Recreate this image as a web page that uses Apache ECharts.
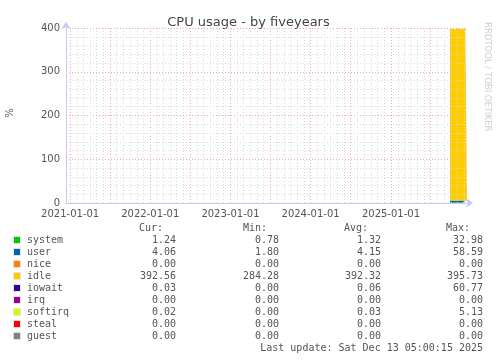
<!DOCTYPE html>
<html><head><meta charset="utf-8">
<script src="https://cdn.jsdelivr.net/npm/echarts@6/dist/echarts.min.js"></script>
<style>html,body{margin:0;padding:0;background:#fff}#c{width:497px;height:360px}</style>
</head><body><div id="c"></div>
<script>
var dates = ['2025-09-27','2025-10-04','2025-10-11','2025-10-18','2025-10-25','2025-11-01','2025-11-08','2025-11-15','2025-11-22','2025-11-29','2025-12-06','2025-12-13'];
var systemVals = [1.35,1.30,1.33,1.31,1.29,1.34,1.32,1.30,1.33,1.31,1.28,1.24];
var userVals = [4.20,4.10,4.20,4.15,4.10,4.20,4.15,4.10,4.20,4.15,4.10,4.06];
var niceVals = [0,0,0,0,0,0,0,0,0,0,0,0];
var idleVals = [392.2,392.4,392.3,392.3,392.4,392.2,392.3,392.4,392.3,392.3,392.4,392.56];
var iowaitVals = [0.06,0.07,0.05,0.06,0.06,0.07,0.06,0.05,0.06,0.06,0.05,0.03];
var irqVals = [0,0,0,0,0,0,0,0,0,0,0,0];
var softirqVals = [0.03,0.03,0.03,0.03,0.03,0.03,0.03,0.03,0.03,0.03,0.03,0.02];
var stealVals = [0,0,0,0,0,0,0,0,0,0,0,0];
var guestVals = [0,0,0,0,0,0,0,0,0,0,0,0];

var names = ['system','user','nice','idle','iowait','irq','softirq','steal','guest'];
var colors = ['#00cc00','#0066b3','#ff8000','#ffcc00','#330099','#990099','#ccff00','#ff0000','#808080'];
var curVals = ['1.24','4.06','0.00','392.56','0.03','0.00','0.02','0.00','0.00'];
var minVals = ['0.78','1.80','0.00','284.28','0.00','0.00','0.00','0.00','0.00'];
var avgVals = ['1.32','4.15','0.00','392.32','0.06','0.00','0.03','0.00','0.00'];
var maxVals = ['32.98','58.59','0.00','395.73','60.77','0.00','5.13','0.00','0.00'];
var headers = ['Cur:','Min:','Avg:','Max:'];
var yTicks = [0,100,200,300,400];
var lastUpdate = 'Last update: Sat Dec 13 05:00:15 2025';

var seriesVals = [systemVals,userVals,niceVals,idleVals,iowaitVals,irqVals,softirqVals,stealVals,guestVals];
var DAY = 86400000;
var tMin = Date.UTC(2020,11,13,5,0,15);
var tMax = Date.UTC(2025,11,13,5,0,15);

// calendar grid positions (month starts / half-year starts)
var monthStarts = [], halfYearStarts = [];
for (var yr = 2021; yr <= 2025; yr++) {
  for (var m = 0; m < 12; m++) {
    var t = Date.UTC(yr, m, 1);
    if (t > tMax) continue;
    if (m % 6 === 0) halfYearStarts.push(t); else monthStarts.push(t);
  }
}

var mono = 'DejaVu Sans Mono';
var sans = 'DejaVu Sans';
var txtColor = '#555';

var series = names.map(function(n,i){
  return {
    name:n, type:'line', stack:'cpu', showSymbol:false, symbol:'none',
    lineStyle:{width:0}, areaStyle:{color:colors[i], opacity:1}, itemStyle:{color:colors[i]},
    z:2, silent:true, animation:false,
    data: dates.map(function(d,j){ return [Date.parse(d+'T00:00:00Z'), seriesVals[i][j]]; })
  };
});
series.push({
  type:'line', data:[], z:6, silent:true,
  markLine:{silent:true, symbol:'none', animation:false, label:{show:false},
    lineStyle:{color:'#d8d8d8', type:[1,2], width:1},
    data: monthStarts.map(function(t){ return {xAxis:t}; })}
});
series.push({
  type:'line', data:[], z:7, silent:true,
  markLine:{silent:true, symbol:'none', animation:false, label:{show:false},
    lineStyle:{color:'#f2a8a8', type:[1,2], width:1},
    data: halfYearStarts.map(function(t){ return {xAxis:t}; })}
});

var graphics = [];
var colRight = [176,279,381,483];
var headRight = [163,267,368,470];
headers.forEach(function(h,k){
  graphics.push({type:'text', x:headRight[k], y:228, style:{text:h, font:'10px '+mono, fill:txtColor, textAlign:'right', textVerticalAlign:'middle'}});
});
names.forEach(function(n,i){
  var y = 240 + i*12;
  graphics.push({type:'rect', shape:{x:13.5,y:y-3.5,width:7,height:7}, style:{fill:colors[i], stroke:'#e4e4e4', lineWidth:1}});
  graphics.push({type:'text', x:27, y:y, style:{text:n, font:'10px '+mono, fill:txtColor, textVerticalAlign:'middle'}});
  [curVals,minVals,avgVals,maxVals].forEach(function(arr,k){
    graphics.push({type:'text', x:colRight[k], y:y, style:{text:arr[i], font:'10px '+mono, fill:txtColor, textAlign:'right', textVerticalAlign:'middle'}});
  });
});
graphics.push({type:'text', x:483, y:348, style:{text:lastUpdate, font:'10px '+mono, fill:txtColor, textAlign:'right', textVerticalAlign:'middle'}});
graphics.push({type:'text', x:10, y:113, rotation:Math.PI/2, style:{text:'%', font:'10px '+sans, fill:txtColor, textAlign:'center', textVerticalAlign:'middle'}});
graphics.push({type:'text', x:487, y:22, rotation:-Math.PI/2, style:{text:'RRDTOOL / TOBI OETIKER', font:'8.5px '+sans, fill:'#cfcfcf', textAlign:'left', textVerticalAlign:'middle'}});

var chart = echarts.init(document.getElementById('c'), null, {renderer:'canvas'});
chart.setOption({
  animation:false,
  useUTC:true,
  backgroundColor:'#fff',
  title:{text:'CPU usage - by fiveyears', left:'center', top:11, textStyle:{fontFamily:sans, fontSize:13, fontWeight:'normal', color:'#444'}},
  grid:{left:66, right:30, top:28, bottom:157},
  xAxis:{
    type:'time', min:tMin, max:tMax, z:8,
    minInterval:178*DAY, maxInterval:186*DAY,
    axisLine:{show:true, lineStyle:{color:'#c8c8f4', width:1}, symbol:['none','arrow'], symbolSize:[7,7], symbolOffset:[0,6]},
    axisTick:{show:false},
    axisLabel:{fontFamily:sans, fontSize:10, color:txtColor, margin:6, hideOverlap:false,
      formatter:function(v){ var d=new Date(v); return (d.getUTCMonth()===0 && d.getUTCDate()===1) ? (d.getUTCFullYear()+'-01-01') : ''; }},
    splitLine:{show:false}
  },
  yAxis:{
    type:'value', min:yTicks[0], max:yTicks[yTicks.length-1], interval:100, z:8,
    axisLine:{show:true, lineStyle:{color:'#c8c8f4', width:1}, symbol:['none','arrow'], symbolSize:[7,7], symbolOffset:[0,6]},
    axisTick:{show:false},
    axisLabel:{fontFamily:sans, fontSize:10, color:txtColor, margin:6},
    splitLine:{show:true, lineStyle:{color:'#f2a8a8', type:[1,2], width:1}},
    minorTick:{show:false, splitNumber:5},
    minorSplitLine:{show:true, lineStyle:{color:'#d8d8d8', type:[1,2], width:1}}
  },
  series:series,
  graphic:graphics
});
</script></body></html>
